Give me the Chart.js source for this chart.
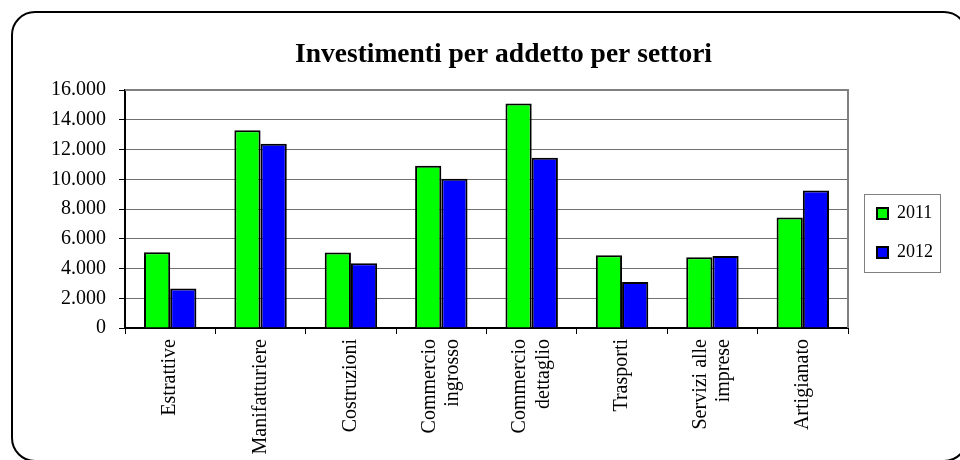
<!DOCTYPE html>
<html>
<head>
<meta charset="utf-8">
<script src="https://cdn.jsdelivr.net/npm/chart.js@4/dist/chart.umd.min.js"></script>
<style>
  html, body { margin: 0; padding: 0; background: #fff; overflow: hidden; }
  #wrap { position: relative; width: 960px; height: 460px; }
  #frame { position: absolute; left: 11px; top: 11px; width: 957px; height: 451px;
           border: 2px solid #000; border-radius: 24px; box-sizing: border-box; }
  canvas { position: absolute; left: 0; top: 0; }
</style>
</head>
<body>
<div id="wrap">
  <div id="frame"></div>
  <canvas id="myChart" width="960" height="460"></canvas>
</div>
<script>
var settori = ["Estrattive", "Manifatturiere", "Costruzioni", ["Commercio", "ingrosso"],
    ["Commercio", "dettaglio"], "Trasporti", ["Servizi alle", "imprese"], "Artigianato"];
var anni = ["2011", "2012"];
var valori2011 = [5100, 13300, 5070, 10900, 15100, 4890, 4750, 7430];
var valori2012 = [2650, 12380, 4350, 10040, 11450, 3100, 4840, 9250];
var yTicks = [0, 2000, 4000, 6000, 8000, 10000, 12000, 14000, 16000];

var serif = "'Liberation Serif', 'DejaVu Serif', serif";

function puntini(v) {
    return String(v).replace(/\B(?=(\d{3})+(?!\d))/g, ".");
}

// asse a categorie che centra le etichette su piu' righe quando sono ruotate
class CategoriaCentrata extends Chart.CategoryScale {
    _computeLabelItems(area) {
        var items = super._computeLabelItems(area);
        items.forEach(function (item) {
            if (Array.isArray(item.label) && item.label.length > 1) {
                item.options.translation[0] -= (item.label.length - 1) * item.font.lineHeight / 2;
            }
        });
        return items;
    }
}
CategoriaCentrata.id = 'categoriaCentrata';
CategoriaCentrata.defaults = Chart.CategoryScale.defaults;
Chart.register(CategoriaCentrata);

// sposta titolo e legenda come nell'originale
var spostamenti = {
    id: 'spostamenti',
    afterLayout: function (chart) {
        chart.legend.left += 8;
        chart.legend.right += 8;
        chart.legend.top += 3;
        chart.legend.bottom += 3;
        chart.titleBlock.left += 26;
        chart.titleBlock.right += 26;
    }
};

// bordo attorno alle voci della legenda
var legendBox = {
    id: 'legendBox',
    afterDraw: function (chart) {
        var hb = chart.legend.legendHitBoxes;
        if (!hb || !hb.length) return;
        var first = hb[0], last = hb[hb.length - 1];
        var x1 = first.left - 13, x2 = first.left + first.width + 8;
        var y1 = first.top - 11, y2 = last.top + last.height + 10;
        var c = chart.ctx;
        c.save();
        c.strokeStyle = '#808080';
        c.lineWidth = 1;
        c.strokeRect(Math.round(x1) + 0.5, Math.round(y1) + 0.5, Math.round(x2 - x1), Math.round(y2 - y1));
        c.restore();
    }
};

// bordo grigio in alto e a destra dell'area del grafico
var plotFrame = {
    id: 'plotFrame',
    beforeDatasetsDraw: function (chart) {
        var a = chart.chartArea;
        var c = chart.ctx;
        c.save();
        c.strokeStyle = '#808080';
        c.lineWidth = 2;
        c.beginPath();
        c.moveTo(a.left, a.top);
        c.lineTo(a.right, a.top);
        c.lineTo(a.right, a.bottom);
        c.stroke();
        c.restore();
    }
};

var ctx = document.getElementById('myChart').getContext('2d');
var myChart = new Chart(ctx, {
    type: 'bar',
    data: {
        labels: settori,
        datasets: [{
                label: anni[0],
                data: valori2011,
                backgroundColor: '#00ff00',
                borderColor: '#000000',
                borderWidth: 2,
            },
            {
                label: anni[1],
                data: valori2012,
                backgroundColor: '#0000ff',
                borderColor: '#000000',
                borderWidth: 2,
            },
        ]
    },
    options: {
        responsive: false,
        animation: false,
        devicePixelRatio: 1,
        datasets: {
            bar: { categoryPercentage: 0.58, barPercentage: 1.0 }
        },
        layout: {
            padding: { left: 20, right: 25, top: 0, bottom: 0 }
        },
        plugins: {
            title: {
                display: true,
                text: "Investimenti per addetto per settori",
                color: '#000',
                font: { family: serif, size: 27.5, weight: 'bold' },
                padding: { top: 38, bottom: 19 }
            },
            legend: {
                position: 'right',
                align: 'center',
                labels: {
                    color: '#000',
                    font: { family: serif, size: 18 },
                    boxWidth: 11,
                    boxHeight: 11,
                    padding: 21
                }
            },
            tooltip: { enabled: false }
        },
        scales: {
            x: {
                type: 'categoriaCentrata',
                afterFit: function (axis) { axis.height = 132; },
                grid: {
                    display: true,
                    offset: true,
                    drawOnChartArea: false,
                    drawTicks: true,
                    tickLength: 6,
                    color: '#000'
                },
                border: { color: '#000', width: 2 },
                ticks: {
                    color: '#000',
                    font: { family: serif, size: 20, lineHeight: 1.17 },
                    maxRotation: 90,
                    minRotation: 90,
                    autoSkip: false,
                    padding: 5
                }
            },
            y: {
                min: 0,
                max: 16000,
                afterFit: function (axis) { axis.width = 105; },
                afterBuildTicks: function (axis) {
                    axis.ticks = yTicks.map(function (v) { return { value: v }; });
                },
                grid: {
                    color: '#707070',
                    lineWidth: 1,
                    tickLength: 6,
                    tickColor: '#000'
                },
                border: { color: '#000', width: 2 },
                ticks: {
                    color: '#000',
                    font: { family: serif, size: 20 },
                    padding: 13,
                    callback: function (v) { return puntini(v); }
                }
            }
        }
    },
    plugins: [plotFrame, spostamenti, legendBox]
});
</script>
</body>
</html>
